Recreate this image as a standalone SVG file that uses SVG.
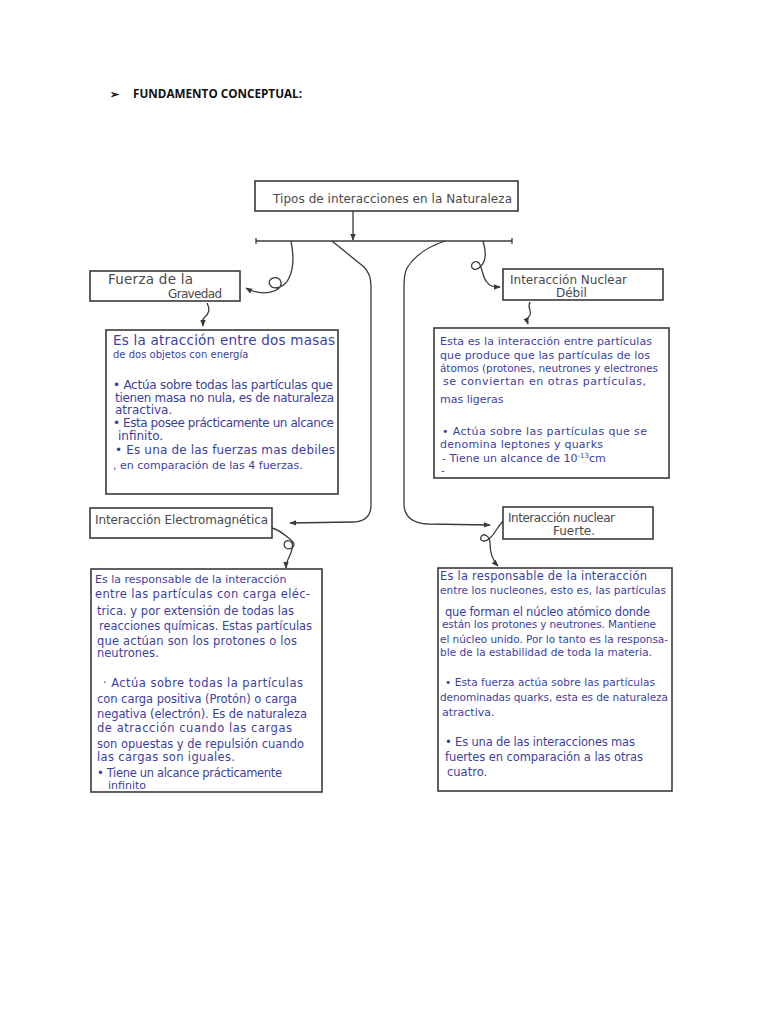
<svg xmlns="http://www.w3.org/2000/svg" width="768" height="1024" viewBox="0 0 768 1024">
<style>
.box{fill:#fff;stroke:#3a3a3a;stroke-width:1.6}
.hd{font-family:"DejaVu Sans",sans-serif;font-size:12px;fill:#4a4a4a}
.ink{font-family:"DejaVu Sans",sans-serif;font-size:10.5px;fill:#3d3f9e}
.i12{font-size:12px}
.i115{font-size:11.5px}
.i11{font-size:11px}
.con{fill:none;stroke:#3a3a3a;stroke-width:1.3}
.top{font-family:"Open Sans","Liberation Sans",sans-serif;font-size:12.5px;font-weight:bold;fill:#111}
</style>
<defs>
<marker id="ah" viewBox="0 0 10 10" refX="9" refY="5" markerWidth="7" markerHeight="7" orient="auto" markerUnits="userSpaceOnUse">
<path d="M0,1 L10,5 L0,9 Z" fill="#3a3a3a"/>
</marker>
</defs>
<rect width="768" height="1024" fill="#fff"/>
<g id="heading">
<text x="110" y="98" class="top" style="font-size:11px">➢</text>
<text x="133" y="98" class="top" textLength="169" lengthAdjust="spacingAndGlyphs">FUNDAMENTO CONCEPTUAL:</text>
</g>
<g id="connectors">
<line class="con" x1="353" y1="211" x2="353" y2="240" marker-end="url(#ah)"/>
<line class="con" x1="256" y1="241" x2="512" y2="241"/>
<line class="con" x1="256" y1="238" x2="256" y2="244"/>
<line class="con" x1="512" y1="238" x2="512" y2="244"/>
<path class="con" d="M291,241 C294,256 293,270 289,278 C285,287 274,291 270,285 C266,278 279,274 281,282 C283,292 262,297 246,288" marker-end="url(#ah)"/>
<path class="con" d="M483,241 C487,254 486,262 480,267 C474,273 468,266 474,262 C482,259 481,274 486,281 C490,287 494,287 500,287" marker-end="url(#ah)"/>
<path class="con" d="M332,241 L364,267 Q371,274 371,286 L371,505 Q371,522 352,522 L290,523" marker-end="url(#ah)"/>
<path class="con" d="M445,241 Q418,250 407,268 Q404,274 404,286 L404,505 Q405,523 428,524 L490,525" marker-end="url(#ah)"/>
<path class="con" d="M207,303 C211,310 208,315 204,318 C201,321 203,323 203,326" marker-end="url(#ah)"/>
<path class="con" d="M530,302 C527,308 532,311 530,315 C528,318 526,318 528,324" marker-end="url(#ah)"/>
<path class="con" d="M272,528 C280,530 286,536 291,540 C298,545 291,551 286,548 C281,544 287,537 292,543 C295,551 286,558 286,568" marker-end="url(#ah)"/>
<path class="con" d="M503,521 C497,527 495,534 490,538 C485,543 479,541 481,537 C483,532 490,536 490,543 C490,552 492,560 498,566" marker-end="url(#ah)"/>
</g>
<g id="title">
<rect class="box" x="255" y="181" width="263" height="30"/>
<text class="hd" x="273" y="203" textLength="239" lengthAdjust="spacing">Tipos de interacciones en la Naturaleza</text>
</g>
<g id="gravedad">
<rect class="box" x="90" y="271" width="150" height="30"/>
<text class="hd" x="108" y="284" style="font-size:13.5px" textLength="85" lengthAdjust="spacing">Fuerza de la</text>
<text class="hd" x="168" y="298" textLength="54" lengthAdjust="spacing">Gravedad</text>
</g>
<g id="debil">
<rect class="box" x="503" y="269" width="160" height="31"/>
<text class="hd" x="510" y="284" textLength="117" lengthAdjust="spacing">Interacción Nuclear</text>
<text class="hd" x="556" y="297">Débil</text>
</g>
<g id="electromagnetica">
<rect class="box" x="90" y="508" width="182" height="30"/>
<text class="hd" x="95" y="524" textLength="173" lengthAdjust="spacing">Interacción Electromagnética</text>
</g>
<g id="fuerte">
<rect class="box" x="503" y="507" width="150" height="32"/>
<text class="hd" x="508" y="522" textLength="107" lengthAdjust="spacing">Interacción nuclear</text>
<text class="hd" x="553" y="535">Fuerte.</text>
</g>
<g id="gravedad-desc">
<rect class="box" x="106" y="330" width="232" height="164"/>
<text class="ink" x="113" y="345" style="font-size:13.5px" textLength="222" lengthAdjust="spacing">Es la atracción entre dos masas</text>
<text class="ink" x="113" y="358" style="font-size:10px">de dos objetos con energía</text>
<text class="ink i12" x="113" y="389" textLength="220" lengthAdjust="spacing">• Actúa sobre todas las partículas que</text>
<text class="ink i12" x="115" y="402" textLength="219" lengthAdjust="spacing">tienen masa no nula, es de naturaleza</text>
<text class="ink i12" x="115" y="414">atractiva.</text>
<text class="ink i12" x="113" y="427" textLength="221" lengthAdjust="spacing">• Esta posee prácticamente un alcance</text>
<text class="ink i12" x="118" y="440">infinito.</text>
<text class="ink i12" x="115" y="454" textLength="220" lengthAdjust="spacing">• Es una de las fuerzas mas debiles</text>
<text class="ink i11" x="113" y="469">, en comparación de las 4 fuerzas.</text>
</g>
<g id="debil-desc">
<rect class="box" x="434" y="328" width="235" height="150"/>
<text class="ink i11" x="440" y="345" textLength="212" lengthAdjust="spacing">Esta es la interacción entre partículas</text>
<text class="ink i11" x="440" y="359" textLength="210" lengthAdjust="spacing">que produce que las partículas de los</text>
<text class="ink" x="440" y="372" textLength="218" lengthAdjust="spacing">átomos (protones, neutrones y electrones</text>
<text class="ink i11" x="443" y="385" textLength="203" lengthAdjust="spacing">se conviertan en otras partículas,</text>
<text class="ink i11" x="440" y="403">mas ligeras</text>
<text class="ink i11" x="442" y="435" textLength="205" lengthAdjust="spacing">• Actúa sobre las partículas que se</text>
<text class="ink i11" x="440" y="448" textLength="163" lengthAdjust="spacing">denomina leptones y quarks</text>
<text class="ink i11" x="442" y="462">- Tiene un alcance de 10<tspan dy="-4" font-size="7">-13</tspan><tspan dy="4">cm</tspan></text>
<text class="ink" x="441" y="474">-</text>
</g>
<g id="electromagnetica-desc">
<rect class="box" x="91" y="569" width="231" height="223"/>
<text class="ink i11" x="95" y="583">Es la responsable de la interacción</text>
<text class="ink i115" x="95" y="598" textLength="215" lengthAdjust="spacing">entre las partículas con carga eléc-</text>
<text class="ink i115" x="97" y="615" textLength="197" lengthAdjust="spacing">trica. y por extensión de todas las</text>
<text class="ink i115" x="99" y="630" textLength="213" lengthAdjust="spacing">reacciones químicas. Estas partículas</text>
<text class="ink i115" x="97" y="645" textLength="200" lengthAdjust="spacing">que actúan son los protones o los</text>
<text class="ink i115" x="97" y="657">neutrones.</text>
<text class="ink i115" x="103" y="687" textLength="200" lengthAdjust="spacing">· Actúa sobre todas la partículas</text>
<text class="ink i115" x="97" y="703" textLength="200" lengthAdjust="spacing">con carga positiva (Protón) o carga</text>
<text class="ink i115" x="97" y="718" textLength="210" lengthAdjust="spacing">negativa (electrón). Es de naturaleza</text>
<text class="ink i115" x="97" y="732" textLength="195" lengthAdjust="spacing">de atracción cuando las cargas</text>
<text class="ink i115" x="97" y="748" textLength="207" lengthAdjust="spacing">son opuestas y de repulsión cuando</text>
<text class="ink i115" x="97" y="761" textLength="138" lengthAdjust="spacing">las cargas son iguales.</text>
<text class="ink i115" x="97" y="777" textLength="185" lengthAdjust="spacing">• Tiene un alcance prácticamente</text>
<text class="ink i11" x="108" y="789">infinito</text>
</g>
<g id="fuerte-desc">
<rect class="box" x="438" y="568" width="234" height="223"/>
<text class="ink i115" x="440" y="580" textLength="207" lengthAdjust="spacing">Es la responsable de la interacción</text>
<text class="ink" x="440" y="594" textLength="226" lengthAdjust="spacing">entre los nucleones, esto es, las partículas</text>
<text class="ink i115" x="445" y="616" textLength="205" lengthAdjust="spacing">que forman el núcleo atómico donde</text>
<text class="ink" x="442" y="628" textLength="214" lengthAdjust="spacing">están los protones y neutrones. Mantiene</text>
<text class="ink" x="440" y="643" textLength="228" lengthAdjust="spacing">el núcleo unido. Por lo tanto es la responsa-</text>
<text class="ink" x="440" y="656" textLength="212" lengthAdjust="spacing">ble de la estabilidad de toda la materia.</text>
<text class="ink" x="445" y="686" textLength="210" lengthAdjust="spacing">• Esta fuerza actúa sobre las partículas</text>
<text class="ink" x="440" y="701" textLength="228" lengthAdjust="spacing">denominadas quarks, esta es de naturaleza</text>
<text class="ink i11" x="442" y="716">atractiva.</text>
<text class="ink i115" x="445" y="746" textLength="190" lengthAdjust="spacing">• Es una de las interacciones mas</text>
<text class="ink i115" x="445" y="761" textLength="198" lengthAdjust="spacing">fuertes en comparación a las otras</text>
<text class="ink i115" x="447" y="776">cuatro.</text>
</g>
</svg>
